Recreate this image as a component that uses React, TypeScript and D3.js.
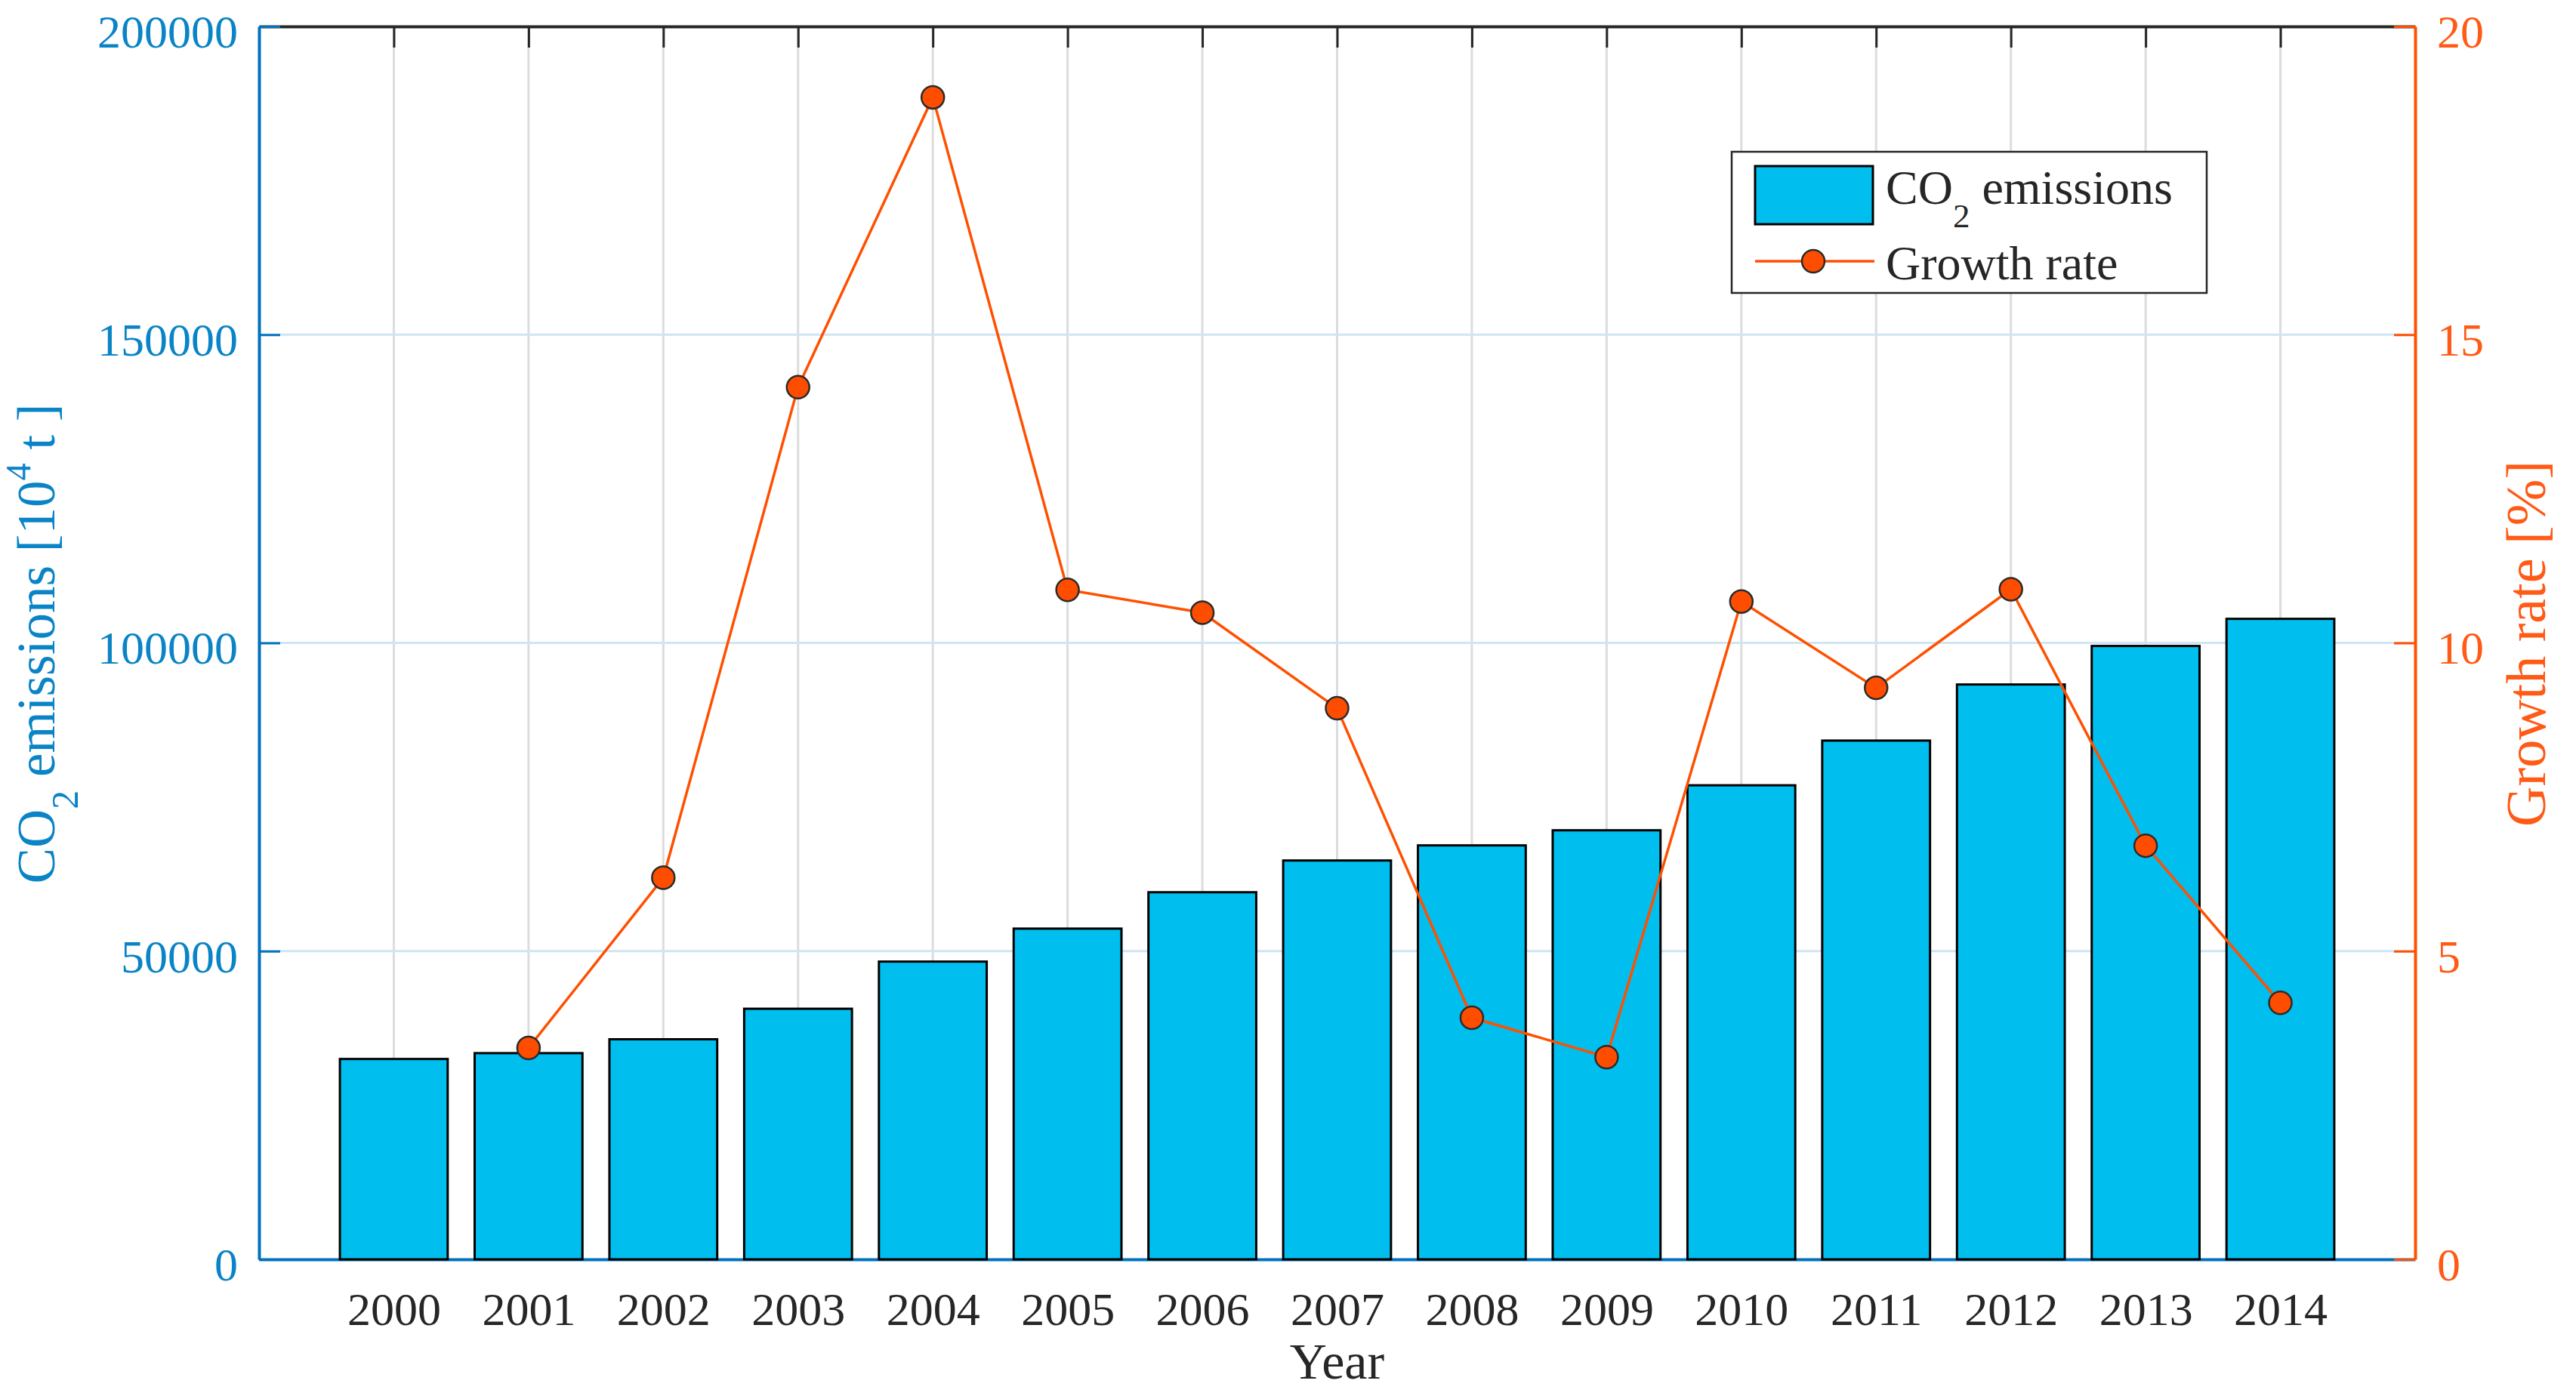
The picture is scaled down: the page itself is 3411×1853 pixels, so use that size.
import { useEffect, useRef } from 'react';
import * as d3 from 'd3';

// CO2 emissions (10^4 t) per year, and year-on-year growth rate (%)
const years = [2000, 2001, 2002, 2003, 2004, 2005, 2006, 2007, 2008, 2009, 2010, 2011, 2012, 2013, 2014];
const emissions = [32500, 33450, 35700, 40650, 48300, 53650, 59550, 64700, 67150, 69600, 76900, 84150, 93250, 99500, 103900];
const rateYears = [2001, 2002, 2003, 2004, 2005, 2006, 2007, 2008, 2009, 2010, 2011, 2012, 2013, 2014];
const growthRate = [3.43, 6.19, 14.15, 18.85, 10.86, 10.49, 8.94, 3.92, 3.28, 10.67, 9.27, 10.87, 6.71, 4.16];
const emissionTicks = [0, 50000, 100000, 150000, 200000];
const rateTicks = [0, 5, 10, 15, 20];

const W = 3411;
const H = 1853;

const BLUE = '#0072BD';
const BLUE_TEXT = '#0a84c6';
const ORANGE = '#FF5000';
const ORANGE_TEXT = '#FF5a16';
const BAR = '#00BEEE';
const INK = '#262626';
const FONT = '"Liberation Serif", "Times New Roman", serif';

export default function App() {
  const svgRef = useRef<SVGSVGElement>(null);

  useEffect(() => {
    if (!svgRef.current) return;
    const svg = d3.select(svgRef.current);
    svg.selectAll('*').remove();

    const margin = { top: 35, right: 213, bottom: 185, left: 343 };
    const left = margin.left;
    const right = W - margin.right;
    const top = margin.top;
    const bottom = H - margin.bottom;

    const x = d3.scaleLinear().domain([1999, 2015]).range([left, right]);
    const y = d3.scaleLinear().domain([0, 200000]).range([bottom, top]);
    const yR = d3.scaleLinear().domain([0, 20]).range([bottom, top]);
    const barW = 0.8 * (x(2001) - x(2000));

    // grid
    svg.append('g')
      .selectAll('line')
      .data(years)
      .join('line')
      .attr('x1', d => x(d)).attr('x2', d => x(d))
      .attr('y1', top).attr('y2', bottom)
      .attr('stroke', '#dcdcdc')
      .attr('stroke-width', 3);

    svg.append('g')
      .selectAll('line')
      .data(emissionTicks.slice(1, -1))
      .join('line')
      .attr('x1', left).attr('x2', right)
      .attr('y1', d => y(d)).attr('y2', d => y(d))
      .attr('stroke', '#cfe5f3')
      .attr('stroke-width', 3);

    // x axes (bottom with labels, top box edge)
    const gx = svg.append('g')
      .attr('transform', `translate(0,${bottom})`)
      .call(d3.axisBottom(x).tickValues(years).tickFormat(d3.format('d')).tickSize(-28).tickSizeOuter(0).tickPadding(43))
      .attr('font-size', 62)
      .attr('font-family', FONT);
    gx.select('.domain').attr('stroke', BLUE).attr('stroke-width', 4);
    gx.selectAll('.tick line').attr('stroke', INK).attr('stroke-width', 3);
    gx.selectAll('.tick text').attr('fill', INK);

    const gt = svg.append('g')
      .attr('transform', `translate(0,${top})`)
      .call(d3.axisTop(x).tickValues(years).tickFormat(() => '').tickSize(-28).tickSizeOuter(0));
    gt.select('.domain').attr('stroke', INK).attr('stroke-width', 4);
    gt.selectAll('.tick line').attr('stroke', INK).attr('stroke-width', 3);

    // left axis
    const gl = svg.append('g')
      .attr('transform', `translate(${left},0)`)
      .call(d3.axisLeft(y).tickValues(emissionTicks).tickFormat(d3.format('d')).tickSize(-28).tickSizeOuter(0).tickPadding(28))
      .attr('font-size', 62)
      .attr('font-family', FONT);
    gl.select('.domain').attr('stroke', BLUE).attr('stroke-width', 4);
    gl.selectAll('.tick line').attr('stroke', BLUE).attr('stroke-width', 3);
    gl.selectAll('.tick text').attr('fill', BLUE_TEXT).attr('dy', '0.44em');

    // right axis
    const gr = svg.append('g')
      .attr('transform', `translate(${right},0)`)
      .call(d3.axisRight(yR).tickValues(rateTicks).tickSize(-28).tickSizeOuter(0).tickPadding(29))
      .attr('font-size', 62)
      .attr('font-family', FONT);
    gr.select('.domain').attr('stroke', ORANGE).attr('stroke-width', 4);
    gr.selectAll('.tick line').attr('stroke', ORANGE).attr('stroke-width', 3);
    gr.selectAll('.tick text').attr('fill', ORANGE_TEXT).attr('dy', '0.44em');

    // bars
    svg.append('g')
      .selectAll('rect')
      .data(years)
      .join('rect')
      .attr('x', d => x(d) - barW / 2)
      .attr('y', (_, i) => y(emissions[i]))
      .attr('width', barW)
      .attr('height', (_, i) => bottom - y(emissions[i]))
      .attr('fill', BAR)
      .attr('stroke', '#000')
      .attr('stroke-width', 3);

    // growth line + markers
    const line = d3.line<number>()
      .x((_, i) => x(rateYears[i]))
      .y(d => yR(d));

    svg.append('path')
      .datum(growthRate)
      .attr('fill', 'none')
      .attr('stroke', ORANGE)
      .attr('stroke-width', 3.5)
      .attr('d', line);

    svg.append('g')
      .selectAll('circle')
      .data(growthRate)
      .join('circle')
      .attr('cx', (_, i) => x(rateYears[i]))
      .attr('cy', d => yR(d))
      .attr('r', 15)
      .attr('fill', '#FF4D00')
      .attr('stroke', '#2b2b2b')
      .attr('stroke-width', 2.5);

    // axis titles
    svg.append('text')
      .attr('x', (left + right) / 2)
      .attr('y', 1826)
      .attr('text-anchor', 'middle')
      .attr('font-family', FONT)
      .attr('font-size', 68)
      .attr('fill', INK)
      .text('Year');

    const yl = svg.append('text')
      .attr('transform', `translate(72,${(top + bottom) / 2 + 1}) rotate(-90)`)
      .attr('text-anchor', 'middle')
      .attr('font-family', FONT)
      .attr('font-size', 71)
      .attr('fill', BLUE_TEXT);
    yl.append('tspan').text('CO');
    yl.append('tspan').attr('font-size', 50).attr('dy', 31).text('2');
    yl.append('tspan').attr('dy', -31).text(' emissions [10');
    yl.append('tspan').attr('font-size', 46).attr('dy', -32).text('4');
    yl.append('tspan').attr('dy', 32).text(' t ]');

    svg.append('text')
      .attr('transform', `translate(3370,${(top + bottom) / 2 + 1}) rotate(-90)`)
      .attr('text-anchor', 'middle')
      .attr('font-family', FONT)
      .attr('font-size', 74)
      .attr('fill', ORANGE_TEXT)
      .text('Growth rate [%]');

    // legend
    const legend = svg.append('g').attr('transform', 'translate(2293,201)');
    legend.append('rect')
      .attr('width', 629).attr('height', 187)
      .attr('fill', '#fff')
      .attr('stroke', INK)
      .attr('stroke-width', 2.5);
    legend.append('rect')
      .attr('x', 31).attr('y', 19)
      .attr('width', 156).attr('height', 77)
      .attr('fill', BAR)
      .attr('stroke', '#000')
      .attr('stroke-width', 3);
    const t1 = legend.append('text')
      .attr('x', 204).attr('y', 69)
      .attr('font-family', FONT)
      .attr('font-size', 64)
      .attr('fill', INK);
    t1.append('tspan').text('CO');
    t1.append('tspan').attr('font-size', 45).attr('dy', 31).text('2');
    t1.append('tspan').attr('dy', -31).text(' emissions');

    legend.append('line')
      .attr('x1', 31).attr('x2', 189)
      .attr('y1', 145).attr('y2', 145)
      .attr('stroke', ORANGE)
      .attr('stroke-width', 3.5);
    legend.append('circle')
      .attr('cx', 108).attr('cy', 145)
      .attr('r', 15)
      .attr('fill', '#FF4D00')
      .attr('stroke', '#2b2b2b')
      .attr('stroke-width', 2.5);
    legend.append('text')
      .attr('x', 204).attr('y', 169)
      .attr('font-family', FONT)
      .attr('font-size', 64)
      .attr('fill', INK)
      .text('Growth rate');
  }, []);

  return (
    <svg
      ref={svgRef}
      width={W}
      height={H}
      viewBox={`0 0 ${W} ${H}`}
      style={{ position: 'absolute', left: 0, top: 0, background: '#fff' }}
    />
  );
}
